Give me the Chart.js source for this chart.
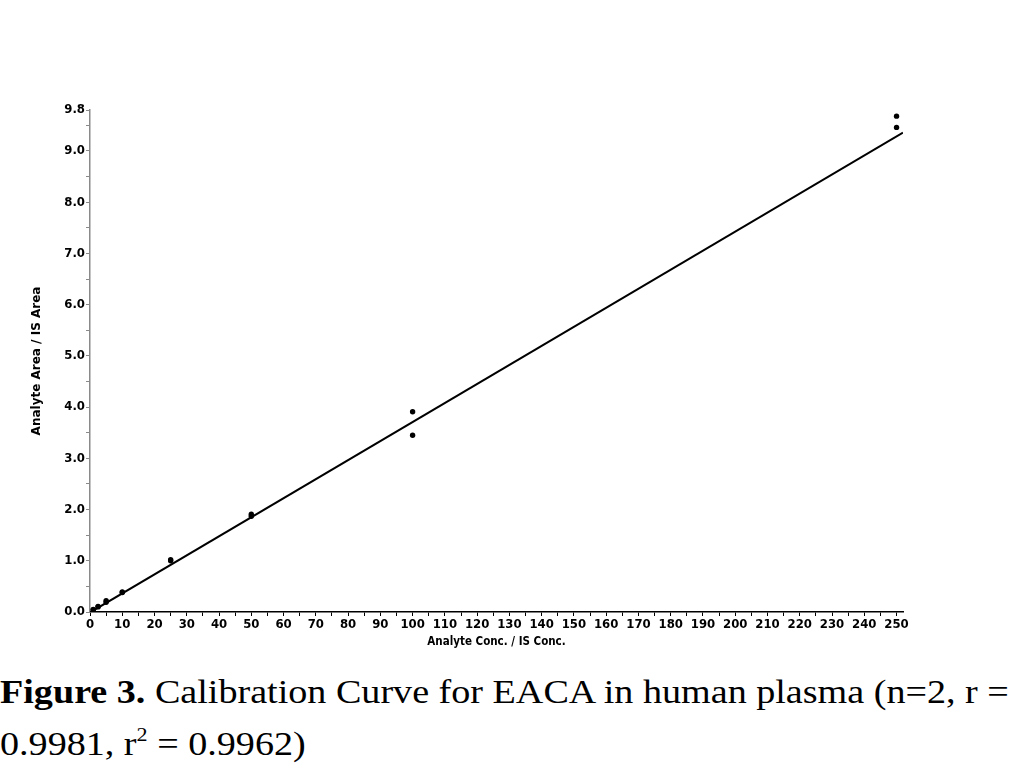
<!DOCTYPE html>
<html>
<head>
<meta charset="utf-8">
<script src="https://cdn.jsdelivr.net/npm/chart.js@4"></script>
<style>
  html, body { margin: 0; padding: 0; background: #fff; }
  body { width: 1013px; height: 768px; position: relative; overflow: hidden; }
  #c { position: absolute; left: 0; top: 0; }
  #cap { position: absolute; left: 0; top: 666px; font-family: "Liberation Serif", "Times New Roman", serif;
         font-size: 33px; line-height: 52px; color: #000; white-space: nowrap;
         transform: scaleX(1.155); transform-origin: 0 0; }
  #cap sup { font-size: 58%; line-height: 0; vertical-align: 0.75em; }
</style>
</head>
<body>
<canvas id="c" width="1013" height="660"></canvas>
<div id="cap"><b>Figure 3.</b> Calibration Curve for EACA in human plasma (n=2, r =<br>0.9981, r<sup>2</sup> = 0.9962)</div>
<script>
// Calibration standards (Analyte Conc. / IS Conc.) and duplicate responses (Analyte Area / IS Area)
const concentrations = [1, 1, 2.5, 2.5, 5, 5, 10, 10, 25, 25, 50, 50, 100, 100, 250, 250];
const responses      = [0.04, 0.05, 0.10, 0.11, 0.19, 0.22, 0.38, 0.39, 1.00, 1.02, 1.87, 1.91, 3.45, 3.91, 9.46, 9.68];

// Regression line end points
const fitX = [0, 252];
const fitY = [-0.01, 9.36];

// Axis ticks
const xTickValues = [0,5,10,15,20,25,30,35,40,45,50,55,60,65,70,75,80,85,90,95,100,105,110,115,120,125,130,135,140,145,150,155,160,165,170,175,180,185,190,195,200,205,210,215,220,225,230,235,240,245,250];
const xLabelled   = [0,10,20,30,40,50,60,70,80,90,100,110,120,130,140,150,160,170,180,190,200,210,220,230,240,250];
const yTickValues = [0,0.5,1,1.5,2,2.5,3,3.5,4,4.5,5,5.5,6,6.5,7,7.5,8,8.5,9,9.5,9.8];
const yLabelled   = [0,1,2,3,4,5,6,7,8,9,9.8];

const narrow = '"Liberation Sans Narrow", "DejaVu Sans Condensed", "Arial Narrow", sans-serif';
const tickFont = { family: narrow, size: 13, weight: 'bold' };

const points = concentrations.map((x, i) => ({ x: x, y: responses[i] }));
const fit = fitX.map((x, i) => ({ x: x, y: fitY[i] }));

new Chart(document.getElementById('c'), {
  type: 'scatter',
  data: {
    datasets: [
      { data: points, pointRadius: 2.7, pointHoverRadius: 2.7, backgroundColor: '#000', borderColor: '#000', borderWidth: 0, order: 1 },
      { data: fit, showLine: true, pointRadius: 0, borderColor: '#000', borderWidth: 2, fill: false, order: 2 }
    ]
  },
  options: {
    responsive: false,
    animation: false,
    devicePixelRatio: 1,
    layout: { padding: { left: 0, right: 110, top: 110, bottom: 8 } },
    plugins: { legend: { display: false }, tooltip: { enabled: false } },
    scales: {
      x: {
        type: 'linear', min: 0, max: 252,
        border: { color: '#000', width: 1.5 },
        grid: { drawOnChartArea: false, drawTicks: true, tickLength: 4, color: '#000' },
        afterBuildTicks: s => { s.ticks = xTickValues.map(v => ({ value: v })); },
        afterFit: s => { s.height = 40; },
        ticks: {
          autoSkip: false, maxRotation: 0, minRotation: 0, padding: 1, color: '#000', font: tickFont,
          callback: v => xLabelled.includes(v) ? String(v) : ''
        },
        title: { display: true, text: 'Analyte Conc. / IS Conc.', color: '#000',
                 font: { family: narrow, size: 11.5, weight: 'bold' }, padding: { top: 0, bottom: 3 } }
      },
      y: {
        type: 'linear', min: 0, max: 9.8,
        border: { color: '#8a8a8a', width: 1.5 },
        grid: { drawOnChartArea: false, drawTicks: true, tickLength: 4, color: '#8a8a8a' },
        afterBuildTicks: s => { s.ticks = yTickValues.map(v => ({ value: v })); },
        afterFit: s => { s.width = 90; },
        ticks: {
          autoSkip: false, padding: 1, color: '#000', font: tickFont,
          callback: v => yLabelled.includes(v) ? v.toFixed(1) : ''
        },
        title: { display: true, text: 'Analyte Area / IS Area', color: '#000',
                 font: { family: '"DejaVu Sans", Arial, sans-serif', size: 12, weight: 'bold' }, padding: { top: 30, bottom: 0 } }
      }
    }
  }
});
</script>
</body>
</html>
